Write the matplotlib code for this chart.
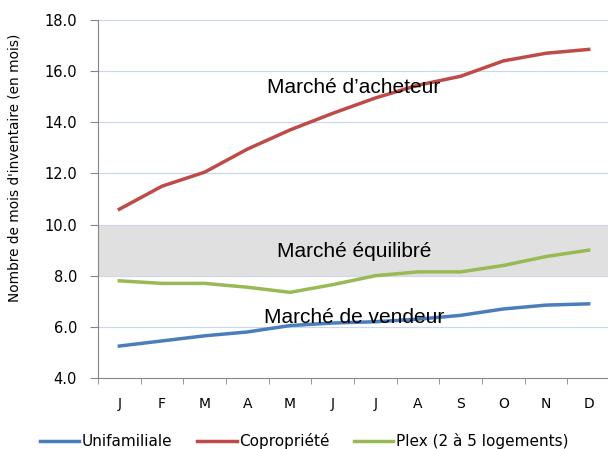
import numpy as np
import matplotlib.pyplot as plt

months = ['J', 'F', 'M', 'A', 'M', 'J', 'J', 'A', 'S', 'O', 'N', 'D']
unifamiliale = [5.25, 5.45, 5.65, 5.8, 6.05, 6.15, 6.2, 6.3, 6.45, 6.7, 6.85, 6.9]
copropriete = [10.6, 11.5, 12.05, 12.95, 13.7, 14.35, 14.95, 15.45, 15.8, 16.4, 16.7, 16.85]
plex = [7.8, 7.7, 7.7, 7.55, 7.35, 7.65, 8.0, 8.15, 8.15, 8.4, 8.75, 9.0]

fig = plt.figure(figsize=(6.08, 4.49), dpi=100)
ax = fig.add_axes([98/608, 1 - 378/449, 512/608, 358/449])

x = np.arange(len(months))

# zone équilibrée
ax.axhspan(8, 10, facecolor='#e0e0e0', edgecolor='#d0d8e8', linewidth=0.8, zorder=1)

for yv in range(6, 19, 2):
    ax.axhline(yv, color='#c8d6ee', linewidth=0.8, zorder=0)

ax.plot(x, unifamiliale, color='#4a7ebb', linewidth=2.5, label='Unifamiliale', zorder=3)
ax.plot(x, copropriete, color='#be4b48', linewidth=2.5, label='Copropriété', zorder=3)
ax.plot(x, plex, color='#98b954', linewidth=2.5, label='Plex (2 à 5 logements)', zorder=3)

ax.text(5.5, 15.35, 'Marché d\u2019acheteur', ha='center', va='center', fontsize=15, family='Liberation Sans', zorder=4)
ax.text(5.5, 8.95, 'Marché équilibré', ha='center', va='center', fontsize=15, family='Liberation Sans', zorder=4)
ax.text(5.5, 6.35, 'Marché de vendeur', ha='center', va='center', fontsize=15, family='Liberation Sans', zorder=4)

ax.set_xlim(-0.5, 11.5)
ax.set_ylim(4, 18)
ax.set_yticks(range(4, 19, 2))
ax.set_yticklabels([f'{v:.1f}' for v in range(4, 19, 2)], fontsize=10.5)
ax.set_xticks(x)
ax.set_xticklabels(months, fontsize=10)
ax.set_xticks(np.arange(-0.5, 12, 1), minor=True)
ax.tick_params(axis='x', which='major', length=0, pad=14)
ax.tick_params(axis='x', which='minor', length=4.5, color='#868686')
ax.tick_params(axis='y', length=6, pad=9, color='#868686')

for side in ['top', 'right']:
    ax.spines[side].set_visible(False)
ax.spines['left'].set_color('#868686')
ax.spines['bottom'].set_color('#868686')

ax.set_ylabel("Nombre de mois d'inventaire (en mois)", fontsize=9.8)
ax.yaxis.set_label_coords(-0.150, 0.587)

fig.legend(loc='center', bbox_to_anchor=(0.5, 1 - 441/449), ncol=3, frameon=False,
           fontsize=11, handlelength=2.6, handletextpad=0.15, columnspacing=1.6,
           borderpad=0, borderaxespad=0)

fig.savefig('out.png', dpi=100)
